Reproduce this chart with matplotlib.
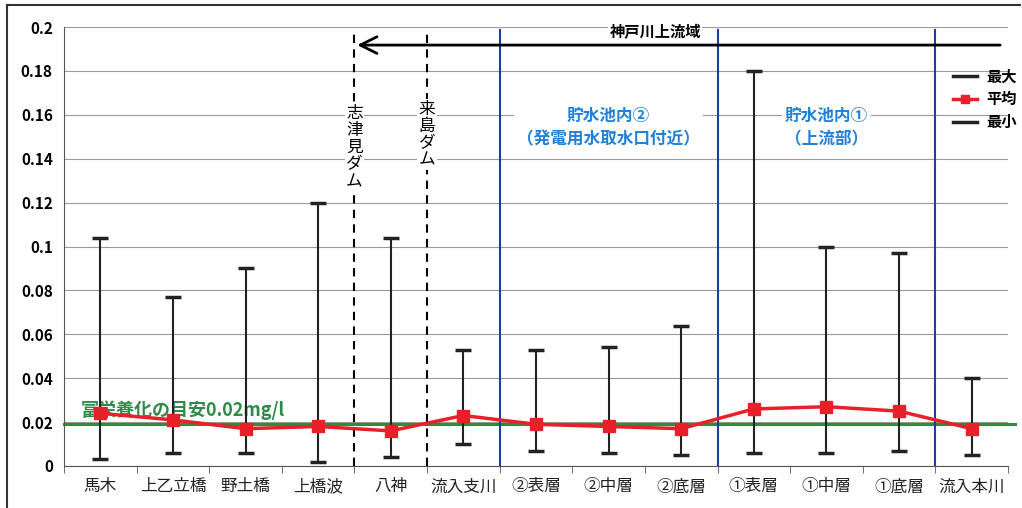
import matplotlib
matplotlib.use("Agg")
import matplotlib.pyplot as plt
from matplotlib.lines import Line2D
import numpy as np

plt.rcParams["font.family"] = ["Noto Sans CJK JP", "DejaVu Sans"]

sites = ["馬木", "上乙立橋", "野土橋", "上橋波", "八神", "流入支川",
         "②表層", "②中層", "②底層", "①表層", "①中層", "①底層", "流入本川"]
v_max = [0.104, 0.077, 0.090, 0.120, 0.104, 0.053,
         0.053, 0.054, 0.064, 0.180, 0.100, 0.097, 0.040]
v_mean = [0.024, 0.021, 0.017, 0.018, 0.016, 0.023,
          0.019, 0.018, 0.017, 0.026, 0.027, 0.025, 0.017]
v_min = [0.003, 0.006, 0.006, 0.002, 0.004, 0.010,
         0.007, 0.006, 0.005, 0.006, 0.006, 0.007, 0.005]
guide = 0.019
dams = [3.5, 4.5]
dam_names = ["志津見ダム", "来島ダム"]
zones = [5.5, 8.5, 11.5]

x = np.arange(len(sites))
vmax, vmean, vmin = np.array(v_max), np.array(v_mean), np.array(v_min)

fig = plt.figure(figsize=(10.22, 5.08), dpi=100)
ax = fig.add_axes([0.0626, 0.0827, 0.9237, 0.864])

ax.set_xlim(-0.5, 12.5)
ax.set_ylim(0, 0.2)
ax.set_yticks(np.arange(0, 0.201, 0.02))
ax.set_yticklabels(["0", "0.02", "0.04", "0.06", "0.08", "0.1", "0.12",
                    "0.14", "0.16", "0.18", "0.2"], fontsize=11, fontweight="bold")
ax.grid(axis="y", color="#9a9a9a", linewidth=0.8)
ax.set_axisbelow(True)
ax.set_xticks(x)
ax.set_xticklabels(sites, fontsize=12, color="#222222")
ax.set_xticks(np.arange(-0.5, 13, 1), minor=True)
ax.tick_params(axis="x", which="major", length=0, pad=9)
ax.tick_params(axis="x", which="minor", length=5, color="#555555")
ax.tick_params(axis="y", length=0, pad=8)
for s in ["top", "right"]:
    ax.spines[s].set_visible(False)
ax.spines["left"].set_color("#555555")
ax.spines["bottom"].set_color("#555555")

# guide line
ax.plot([0, 1.007], [guide, guide], transform=ax.get_yaxis_transform(),
        color="#2e8b3e", linewidth=2.2, clip_on=False, zorder=2)
ax.text(-0.27, 0.0255, "富栄養化の目安0.02mg/l", color="#2e8b4a",
        fontsize=13, fontweight="bold", ha="left", va="center", zorder=5)

# dams
for d in dams:
    ax.plot([d, d], [0, 0.1985], color="black", linestyle=(0, (4, 3)),
            linewidth=1.5, zorder=3)
ax.text(dams[0], 0.145, "\n".join(dam_names[0]), ha="center", va="center",
        fontsize=12, linespacing=1.0,
        bbox=dict(facecolor="white", edgecolor="none", pad=1), zorder=4)
ax.text(dams[1], 0.151, "\n".join(dam_names[1]), ha="center", va="center",
        fontsize=12, linespacing=1.0,
        bbox=dict(facecolor="white", edgecolor="none", pad=1), zorder=4)

# zones
for z in zones:
    ax.plot([z, z], [0, 0.1985], color="#1d3f9e", linewidth=1.5, zorder=3)
ax.text(7.0, 0.154, "貯水池内②\n（発電用水取水口付近）", color="#1f82d8",
        ha="center", va="center", fontsize=12, fontweight="bold",
        linespacing=1.4,
        bbox=dict(facecolor="white", edgecolor="none", pad=2), zorder=4)
ax.text(10.0, 0.154, "貯水池内①\n（上流部）", color="#1f82d8",
        ha="center", va="center", fontsize=12, fontweight="bold",
        linespacing=1.4,
        bbox=dict(facecolor="white", edgecolor="none", pad=2), zorder=4)

# upstream arrow
ax.annotate("", xy=(3.5, 0.1918), xytext=(12.43, 0.1918),
            arrowprops=dict(arrowstyle="->", color="black", lw=2,
                            mutation_scale=30), zorder=4)
ax.text(7.64, 0.1975, "神戸川上流域", ha="center", va="center", fontsize=11,
        fontweight="bold",
        bbox=dict(facecolor="white", edgecolor="none", pad=1), zorder=4)

# error bars and mean line
ax.errorbar(x, vmean, yerr=[vmean - vmin, vmax - vmean], fmt="none",
            ecolor="#222222", elinewidth=1.5, capsize=6, capthick=2.5, zorder=5)
ax.plot(x, vmean, color="#e8202a", linewidth=2.5, marker="s", markersize=9,
        zorder=6)

handles = [Line2D([], [], color="#222222", linewidth=2.5),
           Line2D([], [], color="#e8202a", linewidth=2.5, marker="s", markersize=6),
           Line2D([], [], color="#222222", linewidth=2.5)]
ax.legend(handles, ["最大", "平均", "最小"], loc="upper left",
          bbox_to_anchor=(0.935, 0.92), frameon=False,
          handlelength=1.6, labelspacing=0.45, handletextpad=0.6,
          borderaxespad=0, prop={"weight": "bold", "size": 11})

# outer frame
fig.add_artist(Line2D([0.007, 0.007], [0.0, 0.99], color="#333333", lw=1.5))
fig.add_artist(Line2D([0.007, 0.998], [0.99, 0.99], color="#333333", lw=1.5))

fig.savefig("out.png", dpi=100)
